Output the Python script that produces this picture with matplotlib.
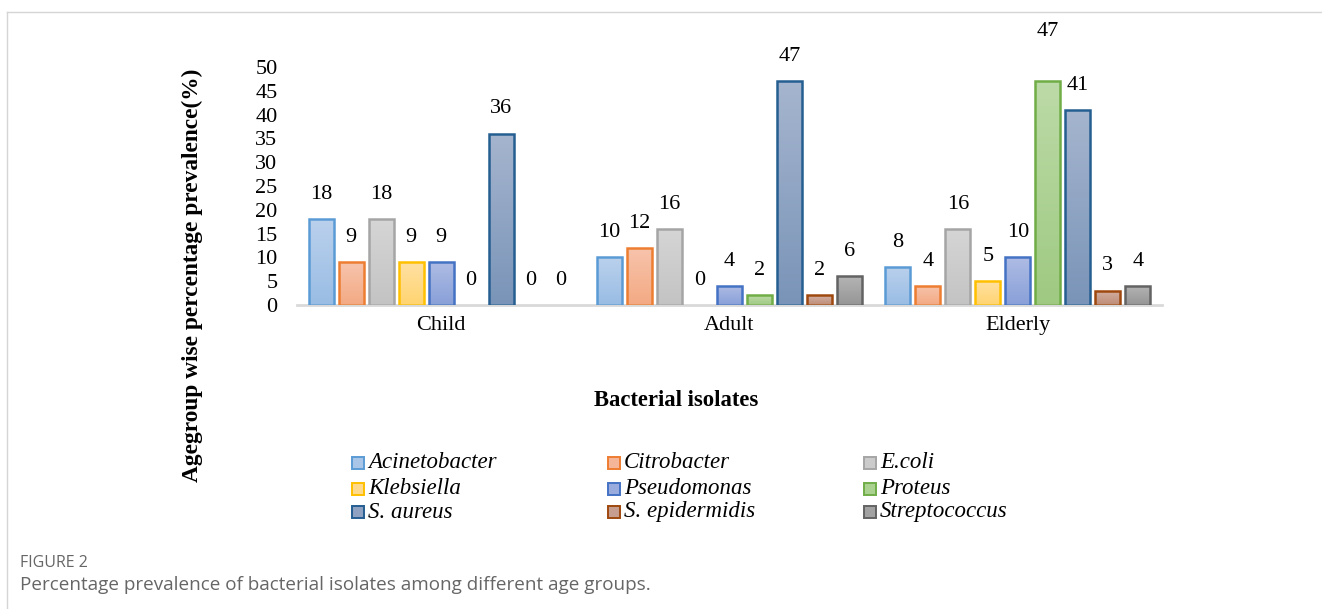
import numpy as np
import matplotlib
matplotlib.use('Agg')
import matplotlib.pyplot as plt
from matplotlib.patches import Rectangle
from matplotlib.lines import Line2D
from matplotlib.colors import LinearSegmentedColormap, to_rgb

# 数据
groups = ['Child', 'Adult', 'Elderly']
isolates = ['Acinetobacter', 'Citrobacter', 'E.coli',
            'Klebsiella', 'Pseudomonas', 'Proteus',
            'S. aureus', 'S. epidermidis', 'Streptococcus']
child = [18, 9, 18, 9, 9, 0, 36, 0, 0]
adult = [10, 12, 16, 0, 4, 2, 47, 2, 6]
elderly = [8, 4, 16, 5, 10, 47, 41, 3, 4]
yticks = list(range(0, 55, 5))

face_colors = ['#a9c5e8', '#f5b598', '#cbcbcb', '#ffd98c', '#9aabdd',
               '#abd191', '#8fa2c2', '#c79d8f', '#a2a2a2']
edge_colors = ['#5b9bd5', '#ed7d31', '#a5a5a5', '#ffc000', '#4472c4',
               '#70ad47', '#255e91', '#9e480e', '#636363']

values = np.array([child, adult, elderly])


def mix(c1, c2, t):
    a = np.array(to_rgb(c1))
    b = np.array(to_rgb(c2))
    return tuple(a * (1 - t) + b * t)


plt.rcParams['font.family'] = ['Liberation Serif', 'DejaVu Serif']

fig = plt.figure(figsize=(13.22, 6.09), dpi=100)
ax = fig.add_axes([297 / 1322, 304 / 609, 865 / 1322, 238 / 609])

x = np.arange(len(groups))
pitch = 0.104
width = 0.086
# 底部深、顶部浅
grad = np.linspace(0, 1, 64).reshape(-1, 1)
for i, name in enumerate(isolates):
    pos = x + (i - 4) * pitch
    lw = [1.8 if v > 0 else 0 for v in values[:, i]]
    bars = ax.bar(pos, values[:, i], width=width, color='none',
                  edgecolor=edge_colors[i], linewidth=lw, zorder=3)
    # 渐变填充
    cmap = LinearSegmentedColormap.from_list(
        name, [mix(face_colors[i], edge_colors[i], 0.2), mix(face_colors[i], 'white', 0.2)])
    for b in bars:
        if b.get_height() <= 0:
            continue
        im = ax.imshow(grad, extent=[b.get_x(), b.get_x() + b.get_width(), 0, b.get_height()],
                       cmap=cmap, aspect='auto', origin='lower', zorder=2.5, vmin=0, vmax=1)
        im.set_clip_path(b)
    for j in range(len(groups)):
        v = values[j, i]
        off = 5.2
        if groups[j] == 'Elderly' and name == 'Proteus':
            off = 10.5
        ax.text(pos[j], v + off, str(v), ha='center', va='center',
                fontsize=16, color='black', clip_on=False)

ax.set_xlim(-0.5, 2.5)
ax.set_ylim(0, 50)
ax.set_yticks(yticks)
ax.set_yticklabels([str(t) for t in yticks], fontsize=16)
ax.set_xticks(x)
ax.set_xticklabels(groups, fontsize=16)
ax.tick_params(axis='y', length=0, pad=14)
ax.tick_params(axis='x', length=0, pad=8)
for s in ['top', 'right', 'left']:
    ax.spines[s].set_visible(False)
ax.spines['bottom'].set_color('#d9d9d9')
ax.spines['bottom'].set_linewidth(2)

# 轴标题
fig.text(676 / 1322, 1 - 400 / 609, 'Bacterial isolates', ha='center', va='center',
         fontsize=16.3, fontweight='bold')
fig.text(192 / 1322, 1 - 275 / 609, 'Agegroup wise percentage prevalence(%)',
         ha='center', va='center', rotation=90, fontsize=16.8, fontweight='bold')

# 图例
col_x = [352, 608, 864]
row_y = [463, 489, 512]
sq = 12
for i, name in enumerate(isolates):
    cx = col_x[i % 3]
    cy = row_y[i // 3]
    fig.add_artist(Rectangle((cx / 1322, 1 - (cy + sq / 2) / 609), sq / 1322, sq / 609,
                             facecolor=face_colors[i], edgecolor=edge_colors[i],
                             linewidth=1.4, transform=fig.transFigure))
    fig.text((cx + sq + 4) / 1322, 1 - cy / 609, name, ha='left', va='center',
             fontsize=16.5, fontstyle='italic')

# 边框
fig.add_artist(Line2D([7 / 1322, 1], [1 - 12 / 609, 1 - 12 / 609],
                      color='#d5d5d5', linewidth=1, transform=fig.transFigure))
fig.add_artist(Line2D([7 / 1322, 7 / 1322], [0, 1 - 12 / 609],
                      color='#d5d5d5', linewidth=1, transform=fig.transFigure))

# 图注
fig.text(20 / 1322, 1 - 563 / 609, 'FIGURE 2', ha='left', va='center',
         fontsize=11.5, color='#666666', family=['Open Sans', 'DejaVu Sans'])
fig.text(20 / 1322, 1 - 585 / 609,
         'Percentage prevalence of bacterial isolates among different age groups.',
         ha='left', va='center', fontsize=13.6, color='#666666',
         family=['Open Sans', 'DejaVu Sans'])

plt.savefig('out.png', dpi=100)
plt.close()
